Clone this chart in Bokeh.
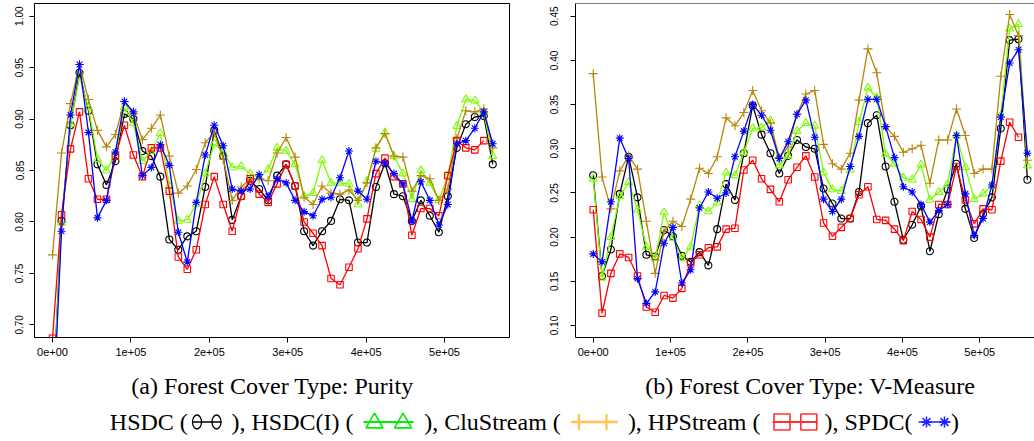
from bokeh.plotting import figure
from bokeh.models import Range1d, FixedTicker, PrintfTickFormatter, Span
from bokeh.layouts import row, column
from bokeh.embed import file_html
from bokeh.resources import INLINE
from bokeh.core.properties import value

# ---------------- data ----------------
x_points = [0, 11460, 22920, 34380, 45840, 57300, 68760, 80220, 91680, 103140,
            114600, 126060, 137520, 148980, 160440, 171900, 183360, 194820, 206280, 217740,
            229200, 240660, 252120, 263580, 275040, 286500, 297960, 309420, 320880, 332340,
            343800, 355260, 366720, 378180, 389640, 401100, 412560, 424020, 435480, 446940,
            458400, 469860, 481320, 492780, 504240, 515700, 527160, 538620, 550080, 561540]

series_names = ["HSDC", "HSDC(I)", "CluStream", "HPStream", "SPDC"]

purity_hsdc = [0.62, 0.801, 0.894, 0.945, 0.908, 0.856, 0.836, 0.859, 0.905, 0.900,
               0.869, 0.864, 0.844, 0.783, 0.773, 0.786, 0.791, 0.834, 0.889, 0.864,
               0.802, 0.825, 0.840, 0.832, 0.821, 0.845, 0.856, 0.835, 0.791, 0.777,
               0.791, 0.801, 0.822, 0.821, 0.780, 0.780, 0.834, 0.857, 0.827, 0.825,
               0.801, 0.821, 0.806, 0.790, 0.825, 0.872, 0.895, 0.902, 0.903, 0.856]
purity_hsdc_i = [0.62, 0.799, 0.895, 0.941, 0.911, 0.861, 0.850, 0.866, 0.911, 0.896,
                 0.859, 0.869, 0.886, 0.835, 0.801, 0.802, 0.817, 0.847, 0.876, 0.868,
                 0.853, 0.854, 0.847, 0.843, 0.851, 0.872, 0.869, 0.856, 0.825, 0.828,
                 0.860, 0.838, 0.838, 0.837, 0.817, 0.840, 0.871, 0.887, 0.864, 0.847,
                 0.822, 0.850, 0.838, 0.821, 0.845, 0.893, 0.919, 0.918, 0.907, 0.864]
purity_clustream = [0.768, 0.867, 0.915, 0.953, 0.919, 0.889, 0.873, 0.885, 0.917, 0.905,
                    0.880, 0.891, 0.904, 0.864, 0.828, 0.835, 0.851, 0.877, 0.887, 0.861,
                    0.821, 0.834, 0.842, 0.842, 0.840, 0.867, 0.882, 0.863, 0.824, 0.817,
                    0.835, 0.828, 0.827, 0.831, 0.821, 0.838, 0.872, 0.886, 0.864, 0.863,
                    0.830, 0.845, 0.842, 0.821, 0.832, 0.881, 0.908, 0.907, 0.910, 0.872]
purity_hpstream = [0.687, 0.807, 0.871, 0.907, 0.842, 0.822, 0.822, 0.864, 0.894, 0.865,
                   0.844, 0.872, 0.872, 0.830, 0.766, 0.754, 0.773, 0.817, 0.844, 0.817,
                   0.791, 0.825, 0.842, 0.827, 0.819, 0.837, 0.856, 0.835, 0.800, 0.789,
                   0.777, 0.745, 0.739, 0.756, 0.774, 0.803, 0.847, 0.862, 0.844, 0.837,
                   0.787, 0.813, 0.813, 0.806, 0.845, 0.879, 0.872, 0.870, 0.879]
purity_spdc = [0.60, 0.791, 0.904, 0.953, 0.887, 0.804, 0.821, 0.868, 0.917, 0.907,
               0.845, 0.853, 0.875, 0.855, 0.790, 0.761, 0.819, 0.865, 0.894, 0.874,
               0.832, 0.830, 0.832, 0.846, 0.825, 0.842, 0.838, 0.821, 0.810, 0.806,
               0.822, 0.824, 0.843, 0.869, 0.830, 0.822, 0.859, 0.857, 0.847, 0.837,
               0.801, 0.839, 0.821, 0.797, 0.817, 0.876, 0.879, 0.891, 0.907, 0.876]

vm_hsdc = [0.270, 0.156, 0.186, 0.249, 0.291, 0.245, 0.180, 0.178, 0.208, 0.201,
           0.179, 0.172, 0.183, 0.168, 0.209, 0.260, 0.242, 0.295, 0.349, 0.316,
           0.295, 0.272, 0.292, 0.310, 0.302, 0.300, 0.255, 0.238, 0.221, 0.221,
           0.251, 0.329, 0.338, 0.280, 0.240, 0.197, 0.214, 0.235, 0.184, 0.226,
           0.254, 0.283, 0.232, 0.199, 0.226, 0.245, 0.323, 0.423, 0.424, 0.265]
vm_hsdc_i = [0.266, 0.154, 0.200, 0.246, 0.262, 0.231, 0.189, 0.176, 0.228, 0.199,
             0.176, 0.189, 0.236, 0.229, 0.239, 0.273, 0.270, 0.296, 0.323, 0.324,
             0.332, 0.281, 0.292, 0.320, 0.329, 0.326, 0.273, 0.254, 0.252, 0.276,
             0.330, 0.369, 0.358, 0.294, 0.283, 0.267, 0.265, 0.282, 0.242, 0.251,
             0.260, 0.315, 0.279, 0.243, 0.249, 0.258, 0.338, 0.436, 0.441, 0.281]
vm_clustream = [0.385, 0.268, 0.232, 0.275, 0.292, 0.277, 0.218, 0.159, 0.207, 0.218,
                0.212, 0.243, 0.278, 0.272, 0.291, 0.335, 0.326, 0.341, 0.366, 0.343,
                0.329, 0.290, 0.302, 0.339, 0.362, 0.366, 0.305, 0.283, 0.277, 0.295,
                0.355, 0.413, 0.386, 0.325, 0.314, 0.296, 0.300, 0.304, 0.261, 0.310,
                0.310, 0.345, 0.315, 0.272, 0.277, 0.277, 0.382, 0.452, 0.428, 0.287]
vm_hpstream = [0.231, 0.114, 0.159, 0.181, 0.177, 0.156, 0.121, 0.115, 0.134, 0.131,
               0.142, 0.171, 0.180, 0.188, 0.189, 0.209, 0.210, 0.276, 0.287, 0.266,
               0.254, 0.240, 0.265, 0.279, 0.292, 0.268, 0.216, 0.201, 0.211, 0.221,
               0.248, 0.257, 0.220, 0.219, 0.209, 0.196, 0.229, 0.220, 0.200, 0.237,
               0.237, 0.280, 0.242, 0.215, 0.232, 0.231, 0.286, 0.330, 0.313]
vm_spdc = [0.181, 0.172, 0.240, 0.312, 0.289, 0.153, 0.125, 0.138, 0.193, 0.211,
           0.148, 0.163, 0.233, 0.251, 0.244, 0.250, 0.291, 0.320, 0.350, 0.338,
           0.321, 0.289, 0.308, 0.339, 0.355, 0.313, 0.243, 0.229, 0.243, 0.280,
           0.314, 0.356, 0.356, 0.325, 0.290, 0.257, 0.251, 0.237, 0.217, 0.230,
           0.237, 0.315, 0.249, 0.202, 0.221, 0.259, 0.336, 0.397, 0.412, 0.295]

x_ticks = [0, 100000, 200000, 300000, 400000, 500000]
x_tick_labels = ["0e+00", "1e+05", "2e+05", "3e+05", "4e+05", "5e+05"]
purity_ticks = [0.70, 0.75, 0.80, 0.85, 0.90, 0.95, 1.00]
vm_ticks = [0.10, 0.15, 0.20, 0.25, 0.30, 0.35, 0.40, 0.45]

caption_a = "(a) Forest Cover Type: Purity"
caption_b = "(b) Forest Cover Type: V-Measure"
legend_texts = ["HSDC (", "), HSDC(I) (", "), CluStream (", "), HPStream (", "), SPDC(", ")"]

# ---------------- styles ----------------
styles = [
    dict(color="black", marker="circle", size=7),
    dict(color="#7CFC00", marker="triangle", size=8),
    dict(color="#B8860B", marker="cross", size=9),
    dict(color="#FF0000", marker="square", size=6.5),
    dict(color="#0000FF", marker="asterisk", size=8),
]


def style_axes(p, standoff_y):
    for ax in p.xaxis:
        ax.ticker = FixedTicker(ticks=x_ticks)
        ax.major_label_overrides = {t: l for t, l in zip(x_ticks, x_tick_labels)}
        ax.major_label_text_font = "Liberation Sans"
        ax.major_label_text_font_size = "11px"
        ax.major_label_standoff = 5
    for ax in p.yaxis:
        ax.formatter = PrintfTickFormatter(format="%.2f")
        ax.major_label_orientation = "vertical"
        ax.major_label_text_font = "Liberation Sans"
        ax.major_label_text_font_size = "10px"
        ax.major_label_standoff = standoff_y
    for ax in p.axis:
        ax.minor_tick_line_color = None
        ax.major_tick_in = 0
        ax.major_tick_out = 5
        ax.axis_line_color = "black"
        ax.major_tick_line_color = "black"
        ax.major_label_text_color = "black"
    p.grid.visible = False


def draw(p, seriess):
    for vals, st in zip(seriess, styles):
        xs = x_points[:len(vals)]
        p.line(xs, vals, line_color=st["color"], line_width=1.3)
        p.scatter(xs, vals, marker=st["marker"], size=st["size"], line_color=st["color"],
                  fill_color=None, line_width=1.1)


p1 = figure(width=520, height=370, x_range=Range1d(-23000, 582900),
            y_range=Range1d(0.6877, 1.0123), output_backend="svg", toolbar_location=None,
            min_border_left=34, min_border_right=11, min_border_top=3, min_border_bottom=33)
p1.yaxis.ticker = FixedTicker(ticks=purity_ticks)
style_axes(p1, 6)
p1.outline_line_color = "black"
p1.outline_line_width = 1
p1.outline_line_alpha = 1
draw(p1, [purity_hsdc, purity_hsdc_i, purity_clustream, purity_hpstream, purity_spdc])

p2 = figure(width=514, height=370, x_range=Range1d(-22892, 570745),
            y_range=Range1d(0.0864, 0.4644), output_backend="svg", toolbar_location=None,
            min_border_left=55, min_border_right=0, min_border_top=3, min_border_bottom=33)
p2.yaxis.ticker = FixedTicker(ticks=vm_ticks)
style_axes(p2, 12)
p2.outline_line_color = None
p2.add_layout(Span(location=0.4644, dimension="width", line_color="black", line_width=1))
draw(p2, [vm_hsdc, vm_hsdc_i, vm_clustream, vm_hpstream, vm_spdc])

# ---------------- captions & legend ----------------
p3 = figure(width=1034, height=71, x_range=Range1d(0, 1034), y_range=Range1d(441, 370),
            output_backend="svg", toolbar_location=None, x_axis_location=None,
            y_axis_location=None, min_border=0)
p3.grid.visible = False
p3.outline_line_color = None

serif = value("Liberation Serif")
p3.text(x=[272, 810], y=[385, 385], text=[caption_a, caption_b], text_font=serif,
        text_font_size="24px", text_align="center", text_baseline="alphabetic",
        text_color="black")

seg_centers = [148.3, 292, 492, 693.7, 868, 954.5]
p3.text(x=seg_centers, y=[421] * 6, text=legend_texts, text_font=serif,
        text_font_size="24px", text_align="center", text_baseline="alphabetic",
        text_color="black")

ly = 421.5
# HSDC
p3.line([192, 221], [ly, ly], line_color="black", line_width=1.5)
p3.ellipse(x=[196.5, 216], y=[ly, ly], width=9, height=14, fill_color=None,
           line_color="black", line_width=1.3)
# HSDC(I)
p3.line([363, 413], [ly, ly], line_color="#00EE00", line_width=1.8)
p3.scatter([374, 402.5], [ly + 1, ly + 1], marker="triangle", size=17, fill_color=None,
           line_color="#00EE00", line_width=1.6)
# CluStream
p3.line([572, 617], [ly, ly], line_color="#FFC34D", line_width=2.5)
p3.scatter([578.5, 606], [ly, ly], marker="cross", size=16, line_color="#FFC34D",
           line_width=2.2)
# HPStream
p3.line([772, 817], [ly, ly], line_color="#FF3030", line_width=1.8)
p3.scatter([781.5, 808.3], [ly, ly], marker="square", size=16, fill_color=None,
           line_color="#FF3030", line_width=1.6)
# SPDC
p3.line([918, 950], [ly, ly], line_color="#2020FF", line_width=1.6)
p3.scatter([926, 944], [ly, ly], marker="asterisk", size=11, line_color="#2020FF",
           line_width=1.5)

layout = column(row(p1, p2), p3)
open("out.html", "w").write(file_html(layout, INLINE))
